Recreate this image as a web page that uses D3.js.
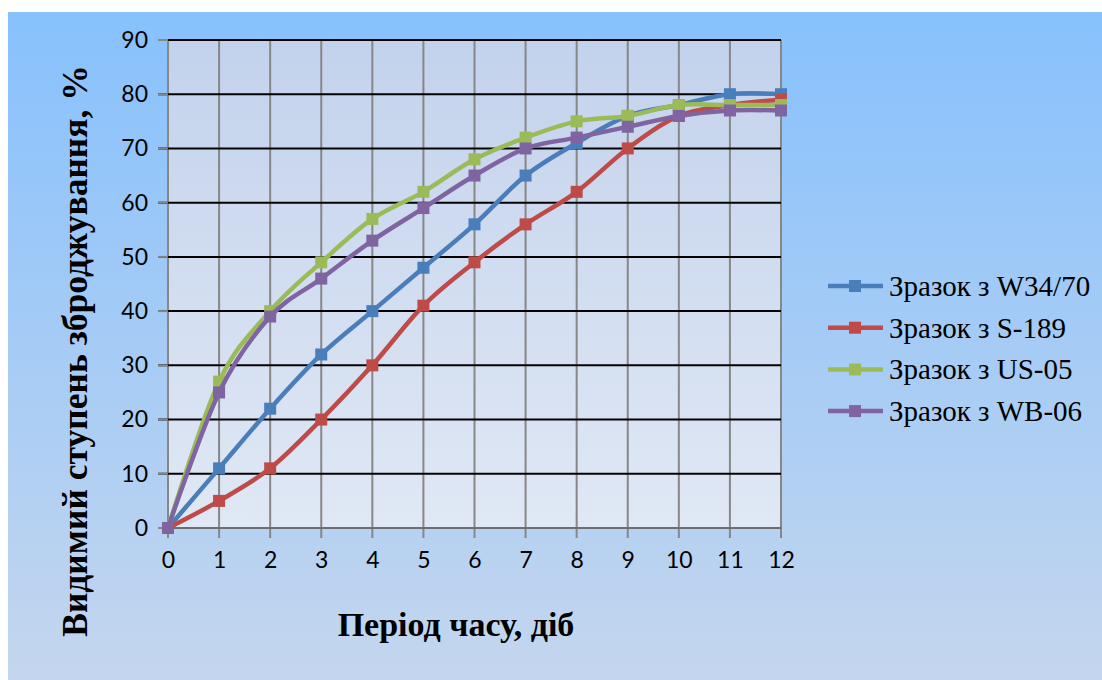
<!DOCTYPE html>
<html>
<head>
<meta charset="utf-8">
<script src="https://cdn.jsdelivr.net/npm/d3@7"></script>
<style>
  body { margin: 0; background: #fff; }
  svg { display: block; }
</style>
</head>
<body>
<svg width="1102" height="680"></svg>
<script>
// data
var days = [0, 1, 2, 3, 4, 5, 6, 7, 8, 9, 10, 11, 12];
var w3470 = [0, 11, 22, 32, 40, 48, 56, 65, 71, 76, 78, 80, 80];
var s189  = [0, 5, 11, 20, 30, 41, 49, 56, 62, 70, 76, 78, 79];
var us05  = [0, 27, 40, 49, 57, 62, 68, 72, 75, 76, 78, 78, 78];
var wb06  = [0, 25, 39, 46, 53, 59, 65, 70, 72, 74, 76, 77, 77];
var seriesNames = ["Зразок з W34/70", "Зразок з S-189", "Зразок з US-05", "Зразок з WB-06"];
var yTicks = [0, 10, 20, 30, 40, 50, 60, 70, 80, 90];

var colors = ["#4a7ebb", "#be4b48", "#9bbb59", "#8064a2"];
var allSeries = [w3470, s189, us05, wb06];

var svg = d3.select("svg"),
    W = +svg.attr("width"),
    H = +svg.attr("height");

var plot = {left: 168, right: 781, top: 40, bottom: 528};

var defs = svg.append("defs");
var bg = defs.append("linearGradient").attr("id", "bg")
    .attr("x1", 0).attr("y1", 0).attr("x2", 0).attr("y2", 1);
bg.append("stop").attr("offset", "0%").attr("stop-color", "#87c1fd");
bg.append("stop").attr("offset", "100%").attr("stop-color", "#c4d6ee");

var pg = defs.append("linearGradient").attr("id", "pg")
    .attr("x1", 0).attr("y1", 0).attr("x2", 0).attr("y2", 1);
pg.append("stop").attr("offset", "0%").attr("stop-color", "#c3d2ec");
pg.append("stop").attr("offset", "100%").attr("stop-color", "#e0e8f5");

// outer background
svg.append("rect")
    .attr("x", 8).attr("y", 12)
    .attr("width", W - 8).attr("height", H - 12)
    .attr("fill", "url(#bg)");

// scales
var x = d3.scaleLinear().domain([0, 12]).range([plot.left, plot.right]);
var y = d3.scaleLinear().domain([0, 90]).range([plot.bottom, plot.top]);

// plot area
svg.append("rect")
    .attr("x", x(0)).attr("y", y(90))
    .attr("width", x(12) - x(0)).attr("height", y(0) - y(90))
    .attr("fill", "url(#pg)");

// vertical grid
svg.append("g").selectAll("line")
  .data(days)
  .enter().append("line")
    .attr("x1", function(d) { return x(d); })
    .attr("x2", function(d) { return x(d); })
    .attr("y1", y(90)).attr("y2", y(0) + 10)
    .attr("stroke", "#878787").attr("stroke-width", 2);

// horizontal grid
svg.append("g").selectAll("line")
  .data(yTicks)
  .enter().append("line")
    .attr("x1", x(0) - 10).attr("x2", x(12))
    .attr("y1", function(d) { return y(d); })
    .attr("y2", function(d) { return y(d); })
    .attr("stroke", function(d) { return d === 0 ? "#6e6e6e" : "#000"; })
    .attr("stroke-width", 2);

// tick stubs on the left in gray
svg.append("g").selectAll("line")
  .data(yTicks)
  .enter().append("line")
    .attr("x1", x(0) - 10).attr("x2", x(0))
    .attr("y1", function(d) { return y(d); })
    .attr("y2", function(d) { return y(d); })
    .attr("stroke", "#878787").attr("stroke-width", 2);

// axes labels through d3 axes
var yAxis = d3.axisLeft(y).tickValues(yTicks).tickSize(0).tickPadding(20);
var xAxis = d3.axisBottom(x).tickValues(days).tickSize(0).tickPadding(24);

var gY = svg.append("g")
    .attr("transform", "translate(" + x(0) + ",0)")
    .call(yAxis);
var gX = svg.append("g")
    .attr("transform", "translate(0," + y(0) + ")")
    .call(xAxis);

[gX, gY].forEach(function(g) {
  g.select(".domain").remove();
  g.selectAll("text")
    .attr("fill", "#000")
    .style("font-family", "Lato, 'Open Sans', sans-serif")
    .style("font-size", "23px");
});

// lines
var line = d3.line()
    .x(function(d, i) { return x(days[i]); })
    .y(function(d) { return y(d); })
    .curve(d3.curveCatmullRom.alpha(0));

var seriesG = svg.append("g").selectAll("g")
  .data(allSeries)
  .enter().append("g");

seriesG.append("path")
    .attr("d", function(d) { return line(d); })
    .attr("fill", "none")
    .attr("stroke", function(d, i) { return colors[i]; })
    .attr("stroke-width", 4.5)
    .attr("stroke-linejoin", "round");

seriesG.each(function(s, si) {
  d3.select(this).selectAll("rect")
    .data(s)
    .enter().append("rect")
      .attr("x", function(d, i) { return x(days[i]) - 6; })
      .attr("y", function(d) { return y(d) - 6; })
      .attr("width", 12).attr("height", 12)
      .attr("fill", colors[si]);
});

// axis titles
svg.append("text")
    .attr("x", 456).attr("y", 636)
    .attr("text-anchor", "middle")
    .style("font-family", "'Liberation Serif', 'Times New Roman', serif")
    .style("font-weight", "bold")
    .style("font-size", "34px")
    .text("Період часу, діб");

svg.append("text")
    .attr("transform", "translate(87,351) rotate(-90)")
    .attr("text-anchor", "middle")
    .style("font-family", "'Liberation Serif', 'Times New Roman', serif")
    .style("font-weight", "bold")
    .style("font-size", "35.5px")
    .text("Видимий ступень зброджування, %");

// legend
var legend = svg.append("g").selectAll("g")
  .data(seriesNames)
  .enter().append("g")
    .attr("transform", function(d, i) { return "translate(828," + (286 + i * 41.7) + ")"; });

legend.append("line")
    .attr("x1", 0).attr("x2", 55)
    .attr("stroke", function(d, i) { return colors[i]; })
    .attr("stroke-width", 4.5);
legend.append("rect")
    .attr("x", 21).attr("y", -6)
    .attr("width", 12).attr("height", 12)
    .attr("fill", function(d, i) { return colors[i]; });
legend.append("text")
    .attr("x", 61).attr("y", 10)
    .style("font-family", "'Liberation Serif', 'Times New Roman', serif")
    .style("font-size", "29px")
    .text(function(d) { return d; });
</script>
</body>
</html>
